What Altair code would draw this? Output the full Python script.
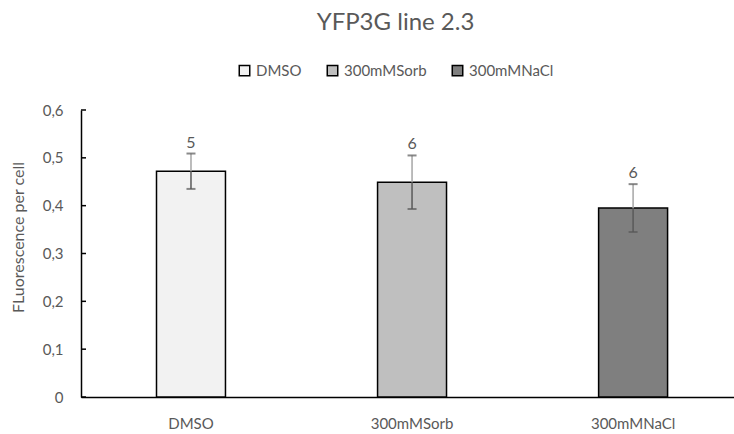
import altair as alt
import pandas as pd

FONT = "Lato"
TXT = "#595959"

categories = ["DMSO", "300mMSorb", "300mMNaCl"]
means = [0.472, 0.449, 0.395]
errors = [0.037, 0.056, 0.050]
counts = ["5", "6", "6"]
colors = ["#f2f2f2", "#bfbfbf", "#7f7f7f"]
y_ticks = [0, 0.1, 0.2, 0.3, 0.4, 0.5, 0.6]

df = pd.DataFrame({"cat": categories, "mean": means, "err": errors, "n": counts})
df["lo"] = df["mean"] - df["err"]
df["hi"] = df["mean"] + df["err"]
ticks_df = pd.DataFrame({"t": y_ticks})

xscale = alt.Scale(domain=categories, paddingInner=0.688, paddingOuter=0.321, align=0.532)
yscale = alt.Scale(domain=[0, 0.6], nice=False, zero=True)

x = alt.X("cat:N", sort=categories, scale=xscale,
          axis=alt.Axis(title=None, labelAngle=0, ticks=False, domainColor="#000000",
                        domainWidth=1.5, labelColor=TXT, labelFontSize=15, labelFont=FONT,
                        labelPadding=19))
y = alt.Y("mean:Q", scale=yscale,
          axis=alt.Axis(values=y_ticks, ticks=False, grid=False, domainColor="#000000",
                        domainWidth=1.5, labelColor=TXT, labelFontSize=15, labelFont=FONT,
                        labelPadding=18,
                        labelExpr="datum.value == 0 ? '0' : replace(format(datum.value, '.1f'), '.', ',')",
                        title="FLuorescence per cell", titleFont=FONT, titleFontSize=16,
                        titleFontWeight="normal", titleColor=TXT, titleX=-55, titleY=127))

bars = alt.Chart(df).mark_bar(stroke="#000000", strokeWidth=1.5).encode(
    x=x, y=y,
    color=alt.Color("cat:N", sort=categories,
                    scale=alt.Scale(domain=categories, range=colors),
                    legend=alt.Legend(title=None, orient="none", legendX=156, legendY=-47,
                                      direction="horizontal", symbolType="square",
                                      symbolSize=110, symbolStrokeColor="#000000",
                                      symbolStrokeWidth=1.5, labelFont=FONT,
                                      labelFontSize=15, labelColor=TXT, columnPadding=22,
                                      labelOffset=4)),
)

upper = alt.Chart(df).mark_rule(color="#a6a6a6", strokeWidth=1.5).encode(
    x=alt.X("cat:N", sort=categories, scale=xscale), y=alt.Y("mean:Q", scale=yscale), y2="hi:Q")
lower = alt.Chart(df).mark_rule(color="#595959", strokeWidth=1.5).encode(
    x=alt.X("cat:N", sort=categories, scale=xscale), y=alt.Y("lo:Q", scale=yscale), y2="mean:Q")
cap_hi = alt.Chart(df).mark_tick(color="#595959", orient="horizontal", size=9, thickness=2).encode(
    x=alt.X("cat:N", sort=categories, scale=xscale), y=alt.Y("hi:Q", scale=yscale))
cap_lo = alt.Chart(df).mark_tick(color="#595959", orient="horizontal", size=9, thickness=2).encode(
    x=alt.X("cat:N", sort=categories, scale=xscale), y=alt.Y("lo:Q", scale=yscale))
labels = alt.Chart(df).mark_text(color=TXT, font=FONT, fontSize=16, baseline="bottom", dy=-3).encode(
    x=alt.X("cat:N", sort=categories, scale=xscale), y=alt.Y("hi:Q", scale=yscale), text="n:N")

yticks = alt.Chart(ticks_df).mark_rule(color="#000000", strokeWidth=1.5).encode(
    x=alt.value(0), x2=alt.value(5), y=alt.Y("t:Q", scale=yscale))

chart = alt.layer(bars, upper, lower, cap_hi, cap_lo, labels, yticks).properties(
    width=653, height=287,
    title=alt.TitleParams("YFP3G line 2.3", font=FONT, fontSize=24, fontWeight="normal",
                          color=TXT, anchor="middle", dx=-12, offset=28),
    autosize=alt.AutoSizeParams(type="none"),
    padding={"left": 81, "top": 110, "right": 0, "bottom": 37},
).configure_view(stroke=None)

chart.save("out.html", embed_options={"renderer": "svg", "actions": False})
